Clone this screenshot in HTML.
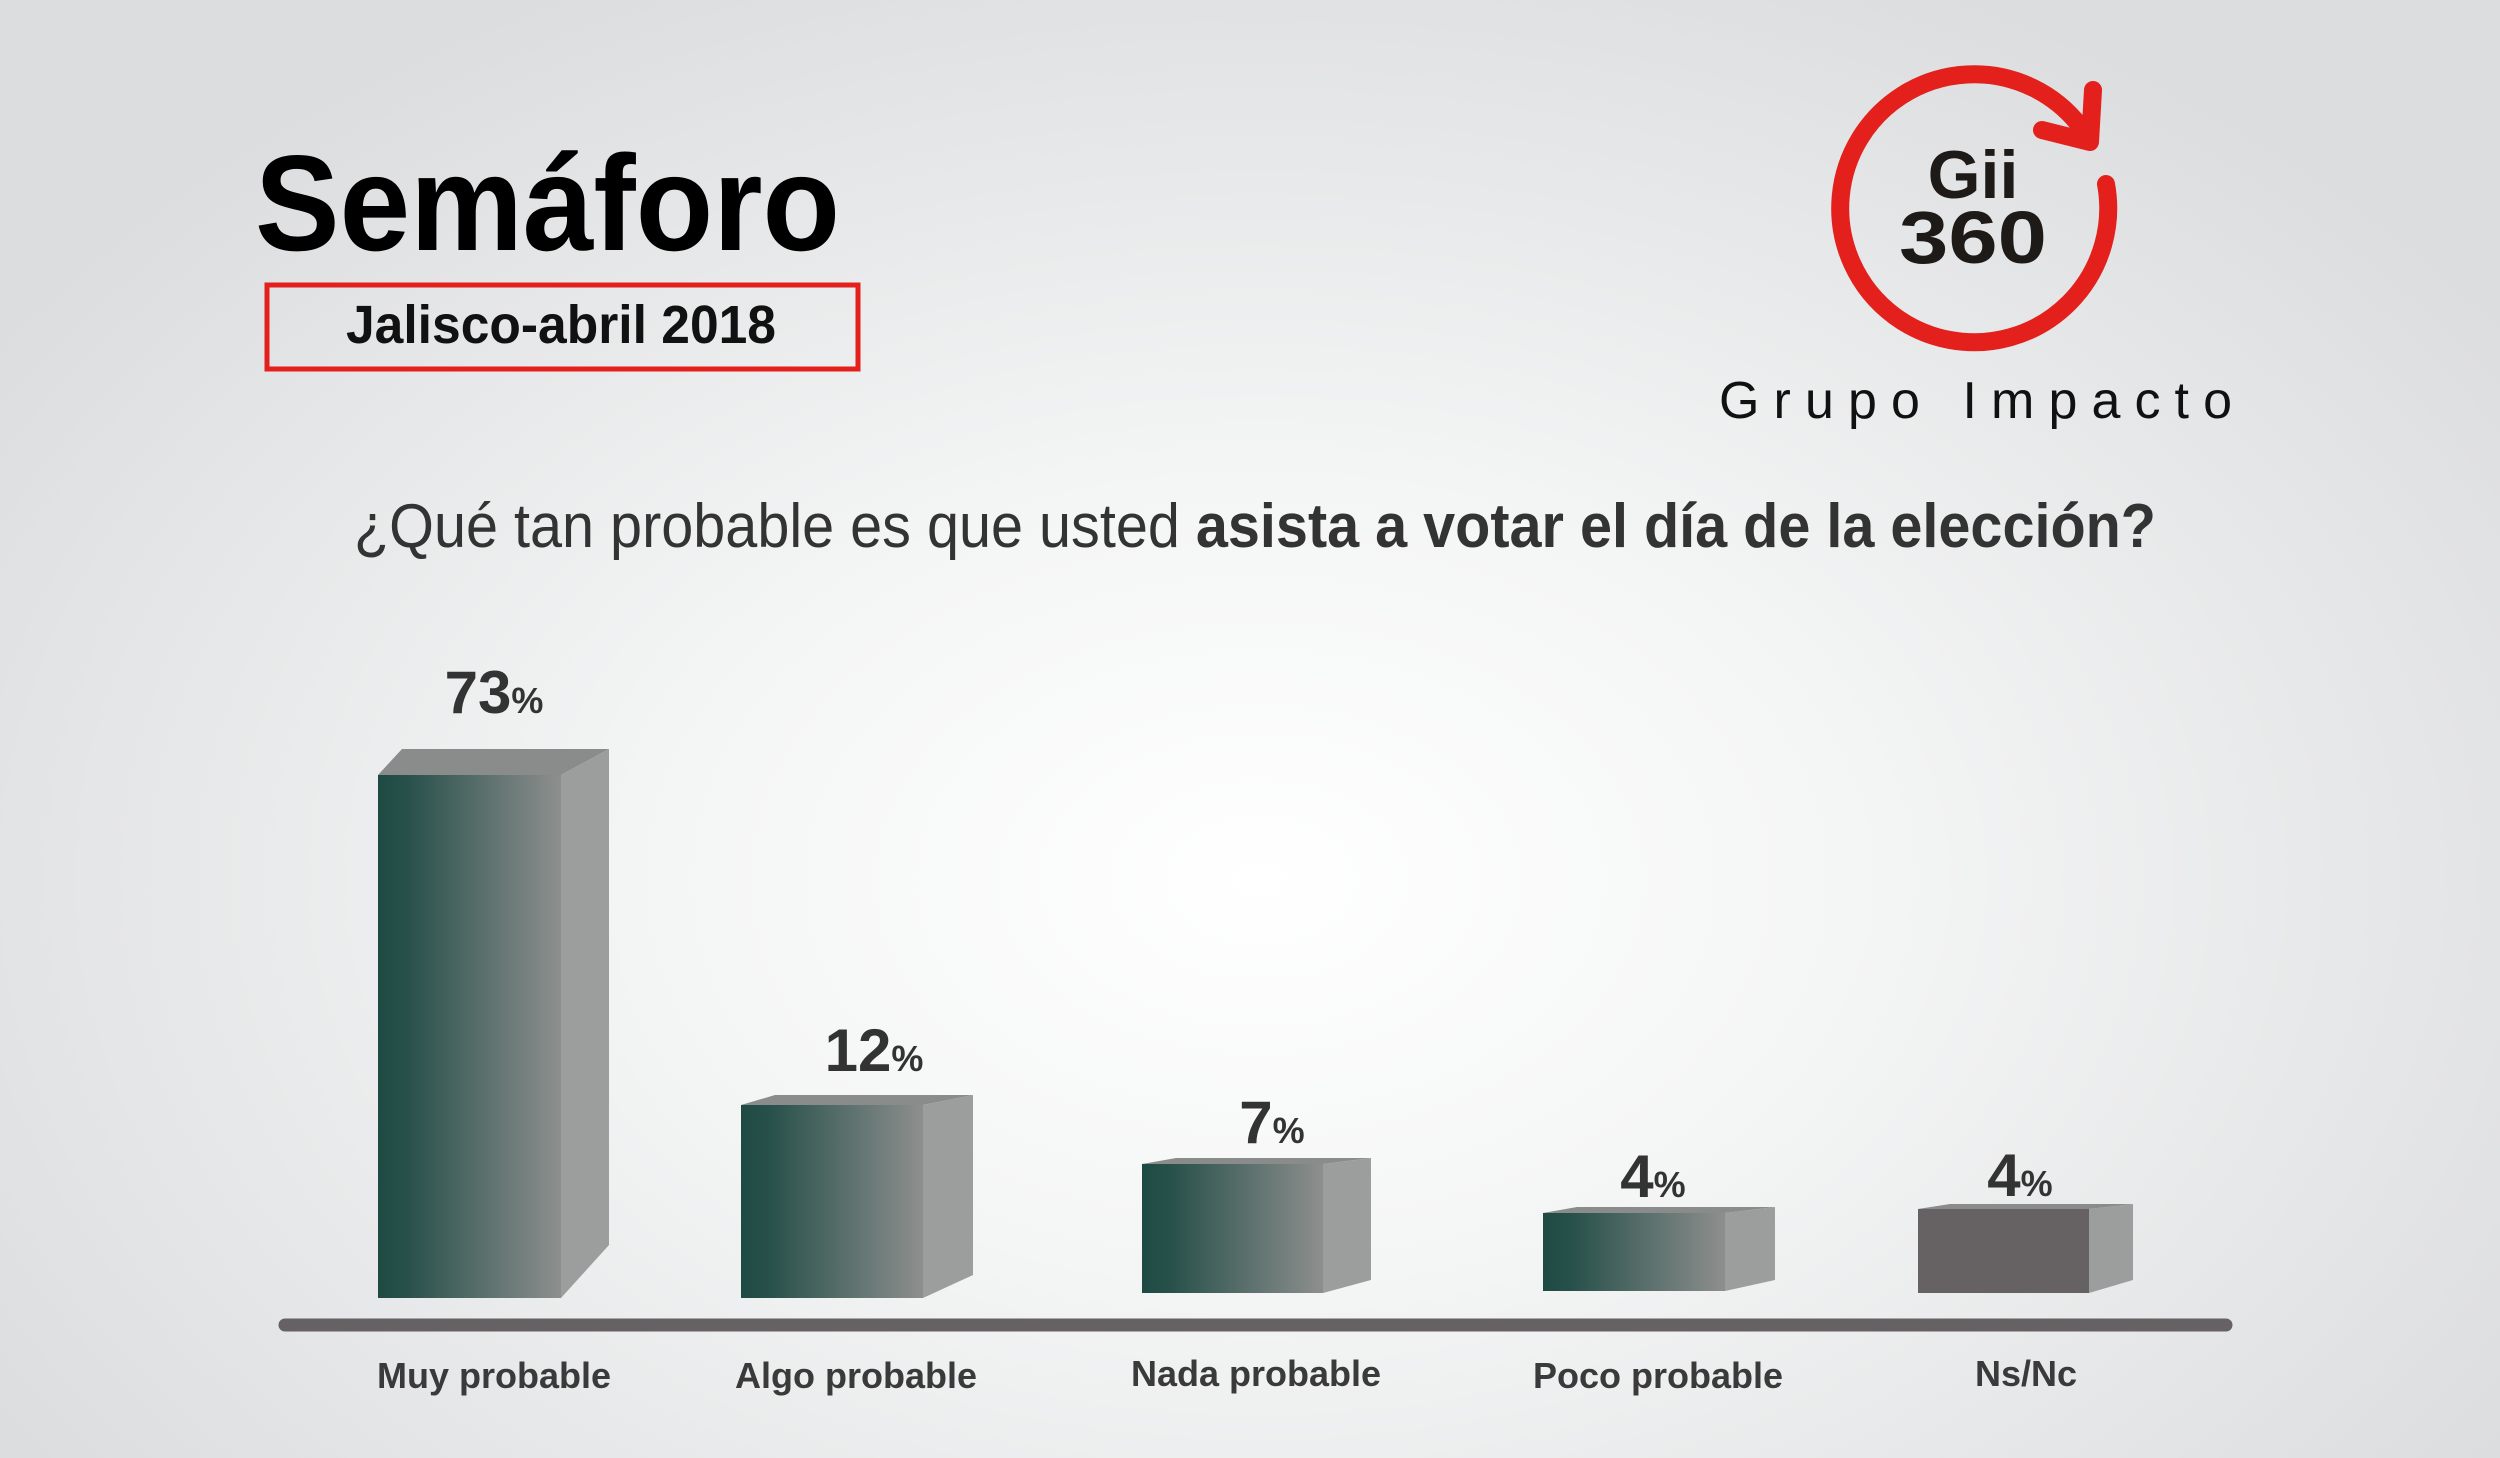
<!DOCTYPE html>
<html><head><meta charset="utf-8"><style>
html,body{margin:0;padding:0}
body{width:2500px;height:1458px;overflow:hidden;background:radial-gradient(ellipse 1500px 1000px at 1260px 880px,#ffffff 0%,#f4f5f5 40%,#dcdddf 100%)}
svg{position:absolute;left:0;top:0}
</style></head><body>
<svg width="2500" height="1458" viewBox="0 0 2500 1458" font-family="Liberation Sans, sans-serif">
<defs>
<linearGradient id="g" x1="0" x2="1" y1="0" y2="0">
<stop offset="0" stop-color="#1f4a44"/><stop offset="0.15" stop-color="#27504a"/><stop offset="1" stop-color="#8d8f8e"/>
</linearGradient>
</defs>
<text x="255" y="250" font-size="136" font-weight="bold" fill="#000" textLength="585" lengthAdjust="spacingAndGlyphs">Semáforo</text>
<rect x="267" y="285" width="591" height="84" fill="none" stroke="#e3201b" stroke-width="5"/>
<text x="561" y="343" font-size="54" font-weight="bold" fill="#111" text-anchor="middle" textLength="430" lengthAdjust="spacingAndGlyphs">Jalisco-abril 2018</text>
<!-- logo -->
<path d="M 2106 184 A 134 134 0 1 1 2080 126" fill="none" stroke="#e3201b" stroke-width="18" stroke-linecap="round"/>
<polyline points="2093,90 2090,142 2042,130" fill="none" stroke="#e3201b" stroke-width="18" stroke-linecap="round" stroke-linejoin="round"/>
<text x="1973" y="198" font-size="68" font-weight="bold" fill="#1e1a18" text-anchor="middle">Gii</text>
<text x="1973" y="263" font-size="74" font-weight="bold" fill="#1e1a18" text-anchor="middle" textLength="148" lengthAdjust="spacingAndGlyphs">360</text>
<text x="1719" y="418" font-size="52" fill="#111" textLength="513" lengthAdjust="spacing">Grupo Impacto</text>
<text x="354" y="547" font-size="62" fill="#333" textLength="1802" lengthAdjust="spacingAndGlyphs">¿Qué tan probable es que usted <tspan font-weight="bold">asista a votar el día de la elección?</tspan></text>
<!-- bars -->
<g>
<polygon points="378,775 402,749 609,749 561,775" fill="#8a8c8b"/>
<polygon points="561,775 609,749 609,1245 561,1298" fill="#9c9e9d"/>
<rect x="378" y="775" width="183" height="523" fill="url(#g)"/>

<polygon points="741,1105 775,1095 973,1095 923,1105" fill="#8a8c8b"/>
<polygon points="923,1105 973,1095 973,1275 923,1298" fill="#9c9e9d"/>
<rect x="741" y="1105" width="182" height="193" fill="url(#g)"/>

<polygon points="1142,1164 1176,1158 1371,1158 1323,1164" fill="#8a8c8b"/>
<polygon points="1323,1164 1371,1158 1371,1280 1323,1293" fill="#9c9e9d"/>
<rect x="1142" y="1164" width="181" height="129" fill="url(#g)"/>

<polygon points="1543,1213 1577,1207 1775,1207 1725,1213" fill="#8a8c8b"/>
<polygon points="1725,1213 1775,1207 1775,1280 1725,1291" fill="#9c9e9d"/>
<rect x="1543" y="1213" width="182" height="78" fill="url(#g)"/>

<polygon points="1918,1209 1950,1204 2133,1204 2089,1209" fill="#8a8c8b"/>
<polygon points="2089,1209 2133,1204 2133,1280 2089,1293" fill="#9c9e9d"/>
<rect x="1918" y="1209" width="171" height="84" fill="#666163"/>
</g>
<line x1="285" y1="1325" x2="2226" y2="1325" stroke="#666163" stroke-width="13" stroke-linecap="round"/>
<g font-weight="bold" fill="#333" text-anchor="middle">
<text x="494" y="713" font-size="60">73<tspan font-size="36">%</tspan></text>
<text x="874" y="1071" font-size="60">12<tspan font-size="36">%</tspan></text>
<text x="1272" y="1143" font-size="60">7<tspan font-size="36">%</tspan></text>
<text x="1653" y="1197" font-size="60">4<tspan font-size="36">%</tspan></text>
<text x="2020" y="1196" font-size="60">4<tspan font-size="36">%</tspan></text>
<g font-size="36" fill="#3a3a3a">
<text x="494" y="1388">Muy probable</text>
<text x="856" y="1388">Algo probable</text>
<text x="1256" y="1386">Nada probable</text>
<text x="1658" y="1388">Poco probable</text>
<text x="2026" y="1386">Ns/Nc</text>
</g>
</g>
</svg>
</body></html>
